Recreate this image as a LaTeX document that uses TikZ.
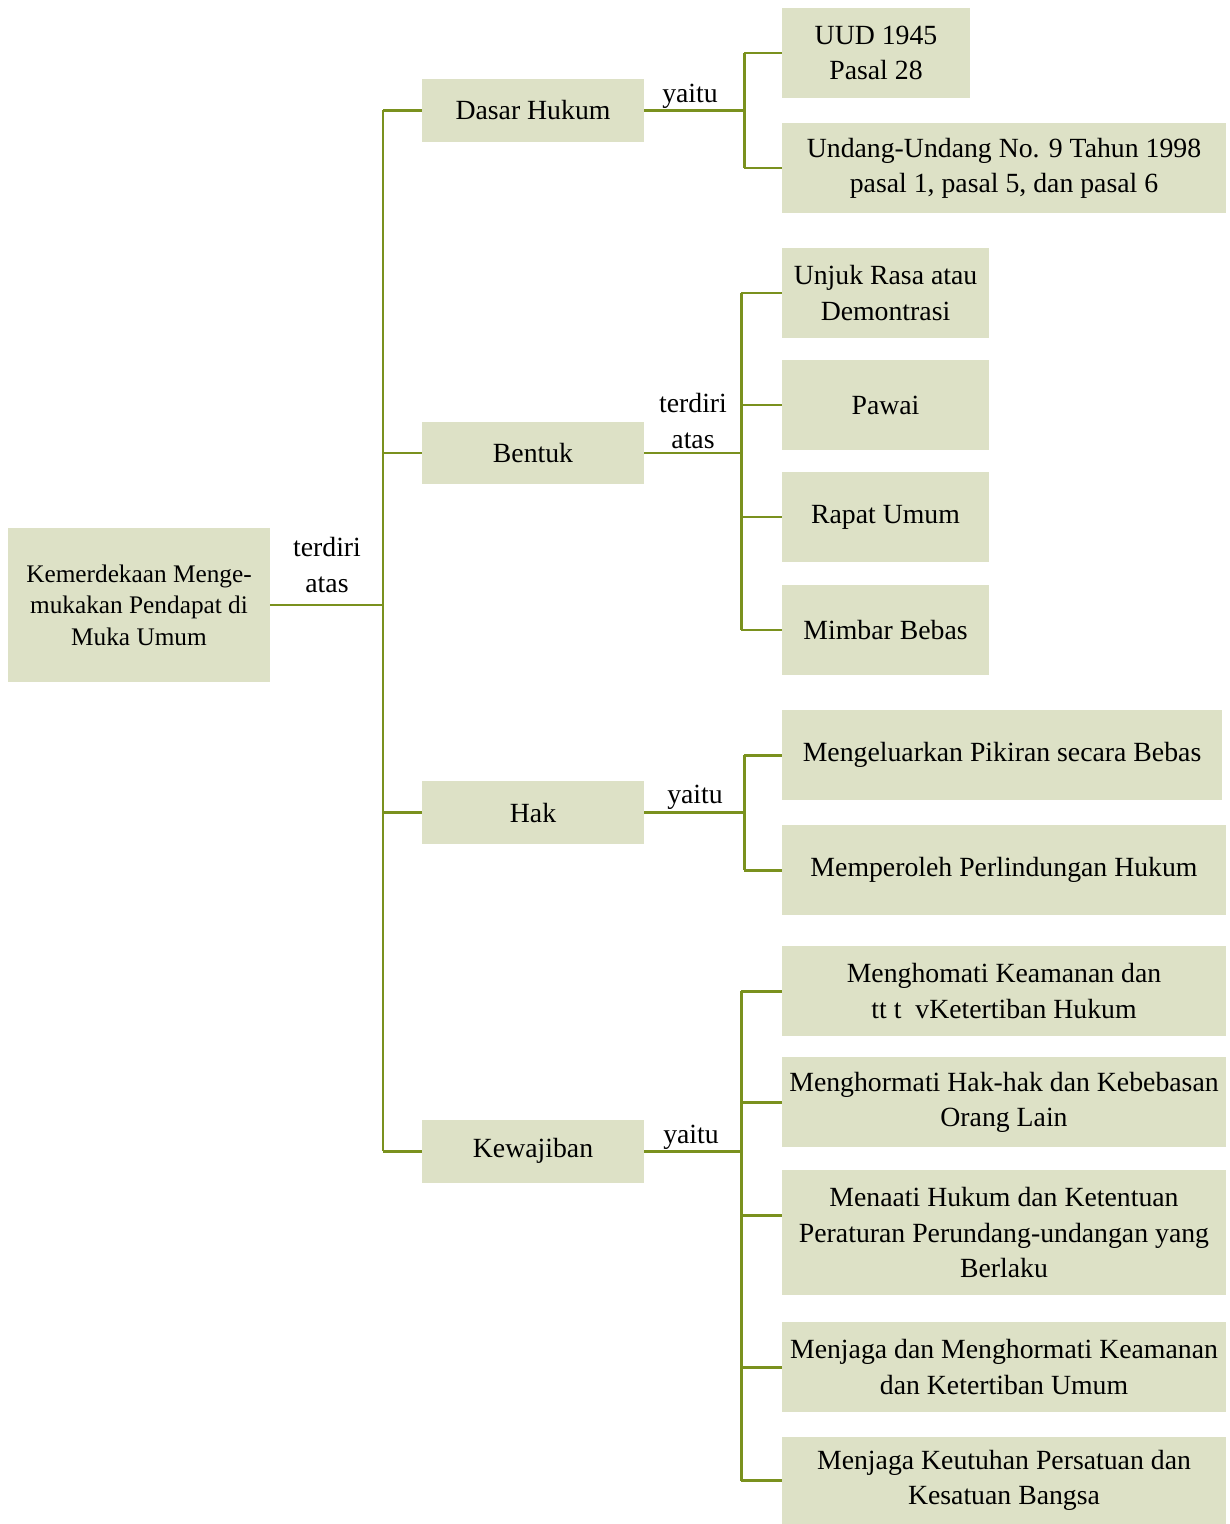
\documentclass[tikz,border=0pt]{standalone}
\usepackage{fontspec}
\setmainfont{Liberation Serif}
\usepackage{xcolor}
\usetikzlibrary{positioning,calc}
\definecolor{boxgreen}{RGB}{221,225,198}
\definecolor{linegreen}{RGB}{122,145,30}

\begin{document}
\begin{tikzpicture}[x=0.02cm,y=-0.02cm,
  box/.style={fill=boxgreen,align=center,inner sep=2pt,font=\fontsize{15.8}{20}\selectfont},
  conn/.style={linegreen,line width=1.7pt},
  lbl/.style={align=center,font=\fontsize{15.8}{20}\selectfont}]
\useasboundingbox (0,0) rectangle (1230,1524);
\node[box,minimum width=5.24cm,minimum height=3.08cm,font=\fontsize{14.4}{18}\selectfont] (root) at (139,605) {Kemerdekaan Menge-\\mukakan Pendapat di\\Muka Umum};
\node[box,minimum width=4.44cm,minimum height=1.26cm] (dasar) at (533,110.5) {Dasar Hukum};
\node[box,minimum width=4.44cm,minimum height=1.26cm] (bentuk) at (533,453) {Bentuk};
\node[box,minimum width=4.44cm,minimum height=1.26cm] (hak) at (533,812.5) {Hak};
\node[box,minimum width=4.44cm,minimum height=1.26cm] (kewajiban) at (533,1151) {Kewajiban};
% dasar hukum
\node[box,minimum width=3.76cm,minimum height=1.8cm] (uud) at (876,53) {UUD 1945\\Pasal 28};
\node[box,minimum width=8.88cm,minimum height=1.8cm] (uu) at (1004,168) {Undang-Undang No. 9 Tahun 1998\\pasal 1, pasal 5, dan pasal 6};
% bentuk
\node[box,minimum width=4.14cm,minimum height=1.8cm] (unjuk) at (885.5,293) {Unjuk Rasa atau\\Demontrasi};
\node[box,minimum width=4.14cm,minimum height=1.8cm] (pawai) at (885.5,405) {Pawai};
\node[box,minimum width=4.14cm,minimum height=1.8cm] (rapat) at (885.5,517) {Rapat Umum};
\node[box,minimum width=4.14cm,minimum height=1.8cm] (mimbar) at (885.5,630) {Mimbar Bebas};
% hak
\node[box,minimum width=8.8cm,minimum height=1.8cm] (pikiran) at (1002,755) {Mengeluarkan Pikiran secara Bebas};
\node[box,minimum width=8.88cm,minimum height=1.8cm] (lindung) at (1004,870) {Memperoleh Perlindungan Hukum};
% kewajiban
\node[box,minimum width=8.88cm,minimum height=1.8cm] (w1) at (1004,991) {Menghomati Keamanan dan\\tt t\ \ vKetertiban Hukum};
\node[box,minimum width=8.88cm,minimum height=1.8cm] (w2) at (1004,1102) {Menghormati Hak-hak dan Kebebasan\\Orang Lain};
\node[box,minimum width=8.88cm,minimum height=2.5cm] (w3) at (1004,1232.5) {Menaati Hukum dan Ketentuan\\Peraturan Perundang-undangan yang\\Berlaku};
\node[box,minimum width=8.88cm,minimum height=1.8cm] (w4) at (1004,1367) {Menjaga dan Menghormati Keamanan\\dan Ketertiban Umum};
\node[box,minimum width=8.88cm,minimum height=1.74cm] (w5) at (1004,1480.5) {Menjaga Keutuhan Persatuan dan\\Kesatuan Bangsa};

\coordinate (t0) at (383,0);
\coordinate (t1) at (744,0);
\coordinate (t2) at (741,0);
\coordinate (t3) at (744,0);
\coordinate (t4) at (741,0);

\draw[conn] (root.east) -- (t0 |- root.east);
\draw[conn] (t0 |- dasar.west) -- (t0 |- kewajiban.west);
\foreach \n in {dasar,bentuk,hak,kewajiban}
  \draw[conn] (t0 |- \n.west) -- (\n.west);
\node[lbl] (l0) at (327,565) {terdiri\\atas};

\draw[conn] (dasar.east) -- (t1 |- dasar.east);
\draw[conn] (t1 |- uud.west) -- (t1 |- uu.west);
\draw[conn] (t1 |- uud.west) -- (uud.west);
\draw[conn] (t1 |- uu.west) -- (uu.west);
\node[lbl] (l1) at (690,96) {yaitu};

\draw[conn] (bentuk.east) -- (t2 |- bentuk.east);
\draw[conn] (t2 |- unjuk.west) -- (t2 |- mimbar.west);
\foreach \n in {unjuk,pawai,rapat,mimbar}
  \draw[conn] (t2 |- \n.west) -- (\n.west);
\node[lbl] (l2) at (693,421) {terdiri\\atas};

\draw[conn] (hak.east) -- (t3 |- hak.east);
\draw[conn] (t3 |- pikiran.west) -- (t3 |- lindung.west);
\foreach \n in {pikiran,lindung}
  \draw[conn] (t3 |- \n.west) -- (\n.west);
\node[lbl] (l3) at (695,797) {yaitu};

\draw[conn] (kewajiban.east) -- (t4 |- kewajiban.east);
\draw[conn] (t4 |- w1.west) -- (t4 |- w5.west);
\foreach \n in {w1,w2,w4,w5}
  \draw[conn] (t4 |- \n.west) -- (\n.west);
\draw[conn] ([yshift=0.34cm]w3.west -| t4) -- ([yshift=0.34cm]w3.west);
\node[lbl] (l4) at (691,1137) {yaitu};
\end{tikzpicture}
\end{document}
